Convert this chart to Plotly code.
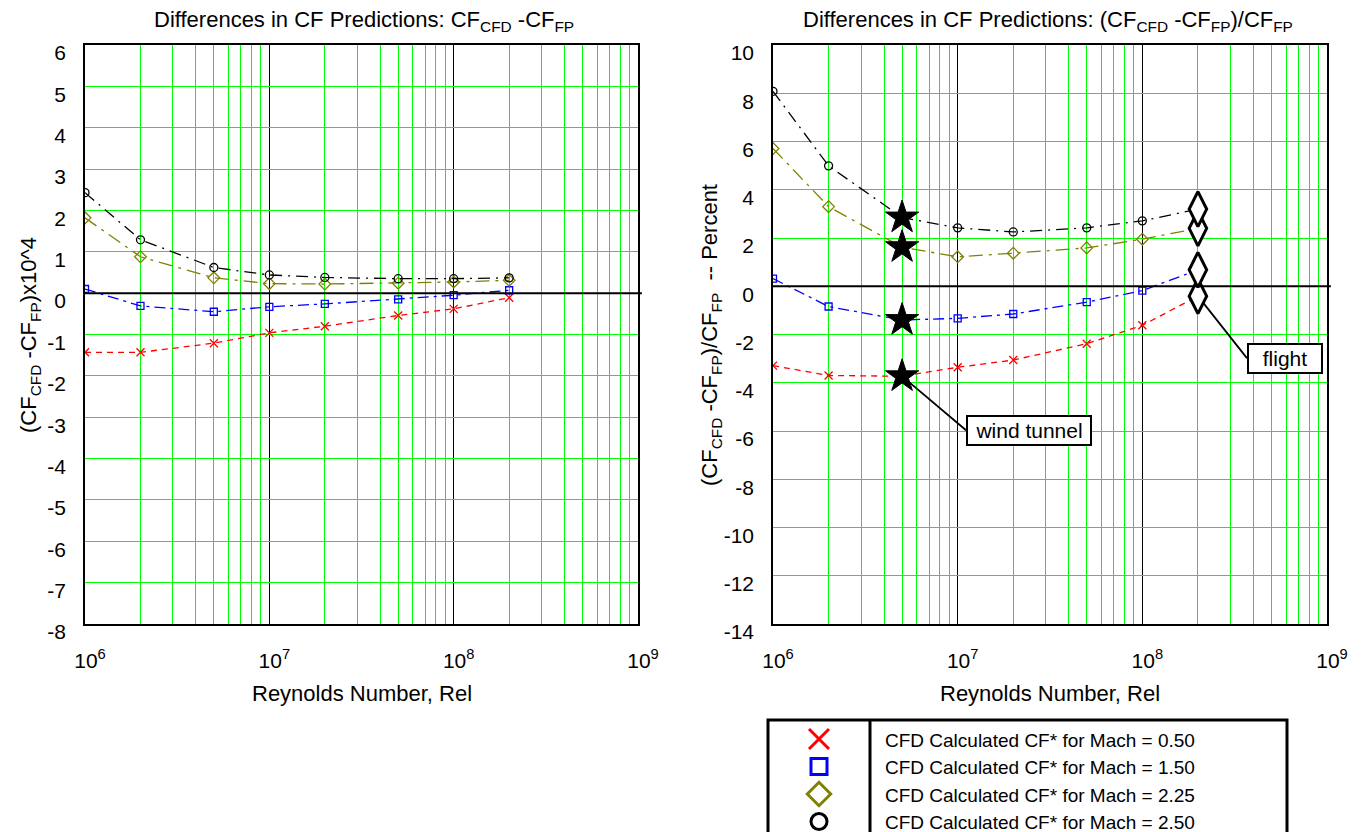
import numpy as np
import plotly.graph_objects as go

W, H = 1363, 832
OFF = 8  # page body margin in the browser

# ---------------- data ----------------
re = [1e6, 2e6, 5e6, 1e7, 2e7, 5e7, 1e8, 2e8]
mach_labels = ["0.50", "1.50", "2.25", "2.50"]

# left: (CF_CFD - CF_FP) x 10^4
abs_m050 = [-1.43, -1.43, -1.21, -0.96, -0.80, -0.54, -0.38, -0.11]
abs_m150 = [0.10, -0.31, -0.45, -0.33, -0.26, -0.15, -0.05, 0.07]
abs_m225 = [1.82, 0.88, 0.37, 0.23, 0.22, 0.24, 0.27, 0.31]
abs_m250 = [2.43, 1.29, 0.62, 0.44, 0.38, 0.35, 0.35, 0.37]

# right: (CF_CFD - CF_FP)/CF_FP, percent
pct_m050 = [-3.29, -3.70, -3.73, -3.36, -3.06, -2.38, -1.62, -0.41]
pct_m150 = [0.32, -0.84, -1.40, -1.33, -1.15, -0.66, -0.18, 0.68]
pct_m225 = [5.71, 3.30, 1.62, 1.22, 1.37, 1.59, 1.95, 2.40]
pct_m250 = [8.08, 4.99, 2.85, 2.42, 2.25, 2.42, 2.71, 3.20]

wind_tunnel_re = 5e6
flight_re = 2e8

x_ticks = [1e6, 1e7, 1e8, 1e9]
x_ticktext = ["10<sup>6</sup>", "10<sup>7</sup>", "10<sup>8</sup>", "10<sup>9</sup>"]
left_yticks = list(range(-8, 7, 1))
right_yticks = list(range(-14, 11, 2))

# ---------------- helpers ----------------
def px(x):
    return (x - OFF) / W

def py(y):
    return 1 - (y - OFF) / H

FONT = "Liberation Sans, Arial, sans-serif"
GREEN = "#00FF00"

styles = [
    dict(color="#FF0000", symbol="x-thin-open", size=8, dash="6px,5px"),
    dict(color="#0000FF", symbol="square-open", size=7, dash="11px,5px,3px,5px"),
    dict(color="#808000", symbol="diamond-open", size=9, dash="14px,6px,3px,6px"),
    dict(color="#000000", symbol="circle-open", size=8, dash="12px,6px,2px,6px"),
]

abs_series = [abs_m050, abs_m150, abs_m225, abs_m250]
pct_series = [pct_m050, pct_m150, pct_m225, pct_m250]

fig = go.Figure()

for s, vals in zip(styles, abs_series):
    fig.add_trace(go.Scatter(
        x=re, y=vals, mode="lines+markers", xaxis="x", yaxis="y",
        line=dict(color=s["color"], width=1.3, dash=s["dash"]),
        marker=dict(symbol=s["symbol"], size=s["size"], color=s["color"],
                    line=dict(color=s["color"], width=1.3)),
        showlegend=False, hoverinfo="skip"))

for s, vals in zip(styles, pct_series):
    fig.add_trace(go.Scatter(
        x=re, y=vals, mode="lines+markers", xaxis="x2", yaxis="y2",
        line=dict(color=s["color"], width=1.3, dash=s["dash"]),
        marker=dict(symbol=s["symbol"], size=s["size"], color=s["color"],
                    line=dict(color=s["color"], width=1.3)),
        showlegend=False, hoverinfo="skip"))

wt_i = re.index(wind_tunnel_re)
fl_i = re.index(flight_re)

# wind tunnel stars
fig.add_trace(go.Scatter(
    x=[wind_tunnel_re] * len(pct_series), y=[v[wt_i] for v in pct_series],
    mode="markers", xaxis="x2", yaxis="y2",
    marker=dict(symbol="star", size=25, color="black", line=dict(color="black", width=1)),
    showlegend=False, hoverinfo="skip"))

# flight diamonds
fig.add_trace(go.Scatter(
    x=[flight_re] * len(pct_series), y=[v[fl_i] for v in pct_series],
    mode="markers", xaxis="x2", yaxis="y2",
    marker=dict(symbol="diamond-tall", size=25, color="white", line=dict(color="black", width=3)),
    showlegend=False, hoverinfo="skip"))

# legend symbols on an overlay axis
leg_box_top, leg_first, leg_row = 720, 739, 27.5
leg_y = [leg_first + i * leg_row for i in range(len(styles))]
leg_sizes = [20, 16, 18, 16]
leg_syms = ["x-thin-open", "square-open", "diamond-open", "circle-open"]
for i, s in enumerate(styles):
    fig.add_trace(go.Scatter(
        x=[0.5], y=[H + OFF - leg_y[i]], mode="markers", xaxis="x3", yaxis="y3",
        marker=dict(symbol=leg_syms[i], size=leg_sizes[i], color=s["color"],
                    line=dict(color=s["color"], width=3)),
        showlegend=False, hoverinfo="skip"))

def xaxis_cfg(x0, x1, anchor):
    return dict(
        domain=[px(x0), px(x1)], anchor=anchor, type="log", range=[6, 9],
        automargin=False,
        tickmode="array", tickvals=x_ticks, ticktext=x_ticktext,
        showgrid=True, gridcolor="black", gridwidth=1,
        minor=dict(tickmode="array",
                   tickvals=[k * 10 ** d for d in range(6, 9) for k in range(2, 10)],
                   showgrid=True, gridcolor=GREEN, gridwidth=1, ticks=""),
        showline=True, mirror=True, linecolor="black", linewidth=1.5,
        ticks="", zeroline=False, ticklabelstandoff=17, ticklabelshift=5,
        tickfont=dict(family=FONT, size=21, color="black"))

def yaxis_cfg(ticks, anchor):
    return dict(
        domain=[py(624), py(45)], anchor=anchor, range=[ticks[0], ticks[-1]],
        automargin=False,
        tickmode="array", tickvals=ticks, ticktext=[str(t) for t in ticks],
        showgrid=True, gridcolor=GREEN, gridwidth=1.2,
        showline=True, mirror=True, linecolor="black", linewidth=1.5,
        ticks="", zeroline=False, ticklabelstandoff=13, ticklabelshift=8,
        tickfont=dict(family=FONT, size=21, color="black"))

fig.update_layout(
    width=W, height=H, autosize=False, margin=dict(l=0, r=0, t=0, b=0, pad=0, autoexpand=False),
    paper_bgcolor="white", plot_bgcolor="white",
    font=dict(family=FONT, color="black"),
    xaxis=xaxis_cfg(85, 638, "y"),
    yaxis=yaxis_cfg(left_yticks, "x"),
    xaxis2=xaxis_cfg(773, 1327, "y2"),
    yaxis2=yaxis_cfg(right_yticks, "x2"),
    xaxis3=dict(domain=[px(768), px(870)], anchor="y3", range=[0, 1], visible=False,
                fixedrange=True, automargin=False),
    yaxis3=dict(domain=[0, py(leg_box_top)], anchor="x3", range=[0, H + OFF - leg_box_top],
                visible=False, fixedrange=True, automargin=False),
)

shapes = []
# zero lines, extending slightly past right frame
for xr, yr in [("x domain", "y"), ("x2 domain", "y2")]:
    shapes.append(dict(type="line", xref=xr, yref=yr, x0=0, x1=1.007, y0=0, y1=0,
                       line=dict(color="black", width=2), layer="above"))
# legend box
shapes.append(dict(type="rect", xref="paper", yref="paper", x0=px(768), x1=px(1287),
                   y0=-0.05, y1=py(leg_box_top), line=dict(color="black", width=3)))
shapes.append(dict(type="line", xref="paper", yref="paper", x0=px(870), x1=px(870),
                   y0=-0.05, y1=py(leg_box_top), line=dict(color="black", width=3)))
fig.update_layout(shapes=shapes)

def text_ann(text, x, y, size, angle=0, xanchor="center"):
    return dict(text=text, x=px(x), y=py(y), xref="paper", yref="paper", showarrow=False,
                xanchor=xanchor, yanchor="middle", textangle=angle, font=dict(size=size))

ann = []
ann.append(text_ann("Differences in CF Predictions: CF<sub>CFD</sub> -CF<sub>FP</sub>", 364, 21, 22))
ann.append(text_ann("Differences in CF Predictions: (CF<sub>CFD</sub> -CF<sub>FP</sub>)/CF<sub>FP</sub>",
                    1048, 21, 22))
ann.append(text_ann("(CF<sub>CFD</sub> -CF<sub>FP</sub>)x10^4", 30, 335, 22, angle=-90))
ann.append(text_ann("(CF<sub>CFD</sub> -CF<sub>FP</sub>)/CF<sub>FP</sub>  -- Percent", 711, 335, 22, angle=-90))
for cx in (362, 1050):
    ann.append(text_ann("Reynolds Number, Rel", cx, 693, 22))
# callouts
ann.append(dict(text="wind tunnel", x=np.log10(wind_tunnel_re), y=pct_m050[wt_i], xref="x2", yref="y2",
                showarrow=True, arrowhead=0, arrowwidth=1.8, arrowcolor="black",
                ax=64, ay=54, xanchor="left", yanchor="middle", standoff=8,
                width=118, bordercolor="black", borderwidth=2, borderpad=2, bgcolor="white",
                font=dict(size=21)))
ann.append(dict(text="flight", x=np.log10(flight_re), y=pct_m050[fl_i], xref="x2", yref="y2",
                showarrow=True, arrowhead=0, arrowwidth=1.8, arrowcolor="black",
                ax=49, ay=62, xanchor="left", yanchor="middle", standoff=8,
                width=68, bordercolor="black", borderwidth=2, borderpad=2, bgcolor="white",
                font=dict(size=21)))
# legend texts
for i, m in enumerate(mach_labels):
    ann.append(text_ann(f"CFD Calculated CF* for Mach = {m}", 883, leg_y[i] + 1, 19, xanchor="left"))
fig.update_layout(annotations=ann)

fig.write_html("out.html")
